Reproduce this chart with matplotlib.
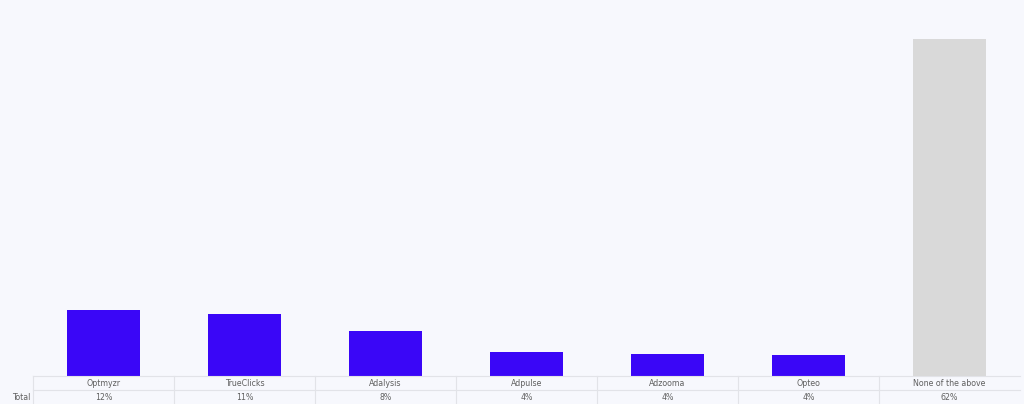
import matplotlib
matplotlib.use("Agg")
import matplotlib.pyplot as plt
from matplotlib.lines import Line2D

categories = ["Optmyzr", "TrueClicks", "Adalysis", "Adpulse", "Adzooma", "Opteo", "None of the above"]
values = [12.2, 11.4, 8.3, 4.4, 4.0, 3.9, 62.0]
labels = ["12%", "11%", "8%", "4%", "4%", "4%", "62%"]
colors = ["#3A06F7"] * 6 + ["#D9D9D9"]
row_label = "Total"

W, H = 1024, 404
bg = "#F7F8FD"
fig = plt.figure(figsize=(W / 100, H / 100), dpi=100, facecolor=bg)

x0, x1 = 33, 1020
ybase = 376
ax = fig.add_axes([x0 / W, (H - ybase) / H, (x1 - x0) / W, ybase / H])
ax.set_facecolor(bg)
n = len(categories)
ax.bar(range(n), values, width=0.52, color=colors, edgecolor="none")
ax.set_xlim(-0.5, n - 0.5)
ax.set_ylim(0, 62.0 * ybase / 337)
ax.axis("off")

# table
line_c = "#E2E3E8"
txt_c = "#606060"
colw = (x1 - x0) / n
def fx(px): return px / W
def fy(py): return 1 - py / H

fig.add_artist(Line2D([fx(x0), fx(x1)], [fy(ybase), fy(ybase)], color=line_c, lw=0.8))
fig.add_artist(Line2D([fx(x0), fx(x1)], [fy(390), fy(390)], color=line_c, lw=0.8))
for i in range(n):
    xb = x0 + i * colw
    fig.add_artist(Line2D([fx(xb), fx(xb)], [fy(ybase), fy(H)], color=line_c, lw=0.8))
    xc = x0 + (i + 0.5) * colw
    fig.text(fx(xc), fy(383), categories[i], ha="center", va="center", fontsize=5.7, color=txt_c)
    fig.text(fx(xc), fy(397), labels[i], ha="center", va="center", fontsize=5.7, color=txt_c)
fig.text(fx(12), fy(397), row_label, ha="left", va="center", fontsize=5.7, color=txt_c)

fig.savefig("out.png", dpi=100, facecolor=bg)
